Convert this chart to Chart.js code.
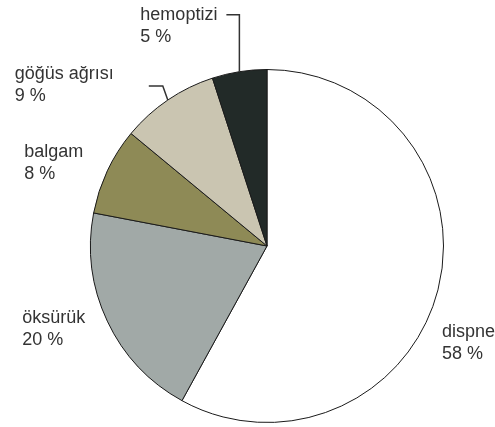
<!DOCTYPE html>
<html>
<head>
<meta charset="utf-8">
<script src="https://cdn.jsdelivr.net/npm/chart.js@4/dist/chart.umd.min.js"></script>
<style>
    html, body { margin: 0; padding: 0; background: #ffffff; }
    #wrap { width: 495px; height: 427px; position: relative; }
</style>
</head>
<body>
<div id="wrap"><canvas id="chart" width="495" height="427"></canvas></div>
<script>
const categories = ["dispnea", "öksürük", "balgam", "göğüs ağrısı", "hemoptizi"];
const percents = [58, 20, 8, 9, 5];
const sliceColors = ["#ffffff", "#a1a9a7", "#8e8a56", "#cac5b1", "#222a28"];

// label placement, relative to the middle of each slice's outer edge
const labelLayout = [
    { align: "left", dx: 4, dy: 47 },
    { align: "right", dx: -22, dy: 2 },
    { align: "right", dx: -24, dy: -14 },
    { align: "right", dx: -54, dy: -21, leader: [[-5, -14], [-19, -14]] },
    { align: "right", dx: -22, dy: -52, leader: [[0, -57], [-13, -57]] }
];

const outsideLabels = {
    id: "outsideLabels",
    afterDatasetsDraw(chart) {
        const ctx = chart.ctx;
        const arcs = chart.getDatasetMeta(0).data;
        ctx.save();
        ctx.font = "18px 'Liberation Sans', Arial, sans-serif";
        ctx.fillStyle = "#333333";
        ctx.strokeStyle = "#333333";
        ctx.lineWidth = 1.5;
        ctx.textBaseline = "alphabetic";
        arcs.forEach((arc, i) => {
            const p = arc.getProps(["x", "y", "startAngle", "endAngle", "outerRadius"], true);
            const mid = (p.startAngle + p.endAngle) / 2;
            const ex = p.x + Math.cos(mid) * p.outerRadius;
            const ey = p.y + Math.sin(mid) * p.outerRadius;
            const lay = labelLayout[i];
            if (lay.leader) {
                ctx.beginPath();
                ctx.moveTo(ex, ey);
                lay.leader.forEach(pt => ctx.lineTo(ex + pt[0], ey + pt[1]));
                ctx.stroke();
            }
            ctx.textAlign = lay.align;
            const tx = ex + lay.dx;
            const ty = ey + lay.dy;
            const first = lay.align === "left" ? tx : tx;
            ctx.fillText(categories[i], first, ty);
            // second line starts at the same left edge as the name
            const nameW = ctx.measureText(categories[i]).width;
            ctx.textAlign = "left";
            const left = lay.align === "left" ? tx : tx - nameW;
            ctx.fillText(percents[i] + " %", left, ty + 22);
        });
        ctx.restore();
    }
};

new Chart(document.getElementById("chart"), {
    type: "pie",
    data: {
        labels: categories,
        datasets: [{
            data: percents,
            backgroundColor: sliceColors,
            borderColor: "#1a1a1a",
            borderWidth: 1
        }]
    },
    options: {
        responsive: false,
        animation: false,
        layout: { padding: { top: 69, bottom: 4, left: 90, right: 51 } },
        plugins: {
            legend: { display: false },
            tooltip: { enabled: false }
        }
    },
    plugins: [outsideLabels]
});
</script>
</body>
</html>
